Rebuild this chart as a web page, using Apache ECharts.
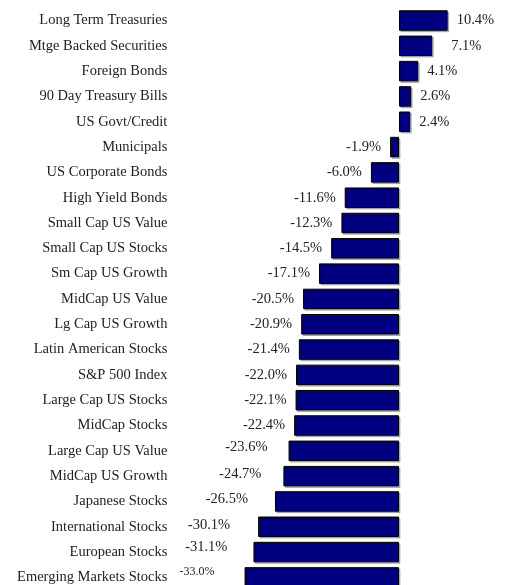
<!DOCTYPE html>
<html>
<head>
<meta charset="utf-8">
<script src="https://cdn.jsdelivr.net/npm/echarts@6/dist/echarts.min.js"></script>
<style>
html,body{margin:0;padding:0;background:#fff;overflow:hidden;}
#chart{width:507px;height:585px;}
</style>
</head>
<body>
<div id="chart"></div>
<script>
var categories = [
  "Long Term Treasuries","Mtge Backed Securities","Foreign Bonds","90 Day Treasury Bills",
  "US Govt/Credit","Municipals","US Corporate Bonds","High Yield Bonds","Small Cap US Value",
  "Small Cap US Stocks","Sm Cap US Growth","MidCap US Value","Lg Cap US Growth",
  "Latin American Stocks","S&P 500 Index","Large Cap US Stocks","MidCap Stocks",
  "Large Cap US Value","MidCap US Growth","Japanese Stocks","International Stocks",
  "European Stocks","Emerging Markets Stocks"
];
var returns = [10.4,7.1,4.1,2.6,2.4,-1.9,-6.0,-11.6,-12.3,-14.5,-17.1,-20.5,-20.9,-21.4,-22.0,-22.1,-22.4,-23.6,-24.7,-26.5,-30.1,-31.1,-33.0];

// manual label nudges seen in the original (styling only)
var labelNudge = {
  "Mtge Backed Securities":[10,0],
  "Large Cap US Value":[-12,-4],
  "MidCap US Growth":[-13,-2],
  "Japanese Stocks":[-18,-2],
  "International Stocks":[-19,-2],
  "European Stocks":[-17,-5],
  "Emerging Markets Stocks":[-21,-6]
};

var font = "'Liberation Serif', 'DejaVu Serif', serif";
var chart = echarts.init(document.getElementById('chart'), null, {renderer:'canvas'});
var data = returns.map(function(v,i){
  var n = labelNudge[categories[i]] || [0,0];
  var lbl = {position: v < 0 ? 'left' : 'right', offset: n};
  if (categories[i] === "Emerging Markets Stocks") lbl.fontSize = 12;
  return {value: v, label: lbl};
});
chart.setOption({
  animation:false,
  grid:{left:188.4, width:304.2, top:7.85, height:582.2, containLabel:false, outerBoundsMode:'none'},
  xAxis:{type:'value', min:-45, max:20, show:false},
  yAxis:{type:'category', data:categories, inverse:true,
    axisLine:{show:false}, axisTick:{show:false}, splitLine:{show:false},
    axisLabel:{margin:21, color:'#222', fontFamily:font, fontSize:14.5}},
  series:[{
    type:'bar', data:data, barWidth:20.5,
    itemStyle:{color:'#000080', borderColor:'#000', borderWidth:1,
      shadowColor:'rgba(0,0,0,0.25)', shadowOffsetX:1.5, shadowOffsetY:1.5, shadowBlur:0},
    label:{show:true, distance:9, color:'#222', fontFamily:font, fontSize:14.5,
      formatter:function(p){return p.value.toFixed(1)+'%';}}
  }]
});
</script>
</body>
</html>
